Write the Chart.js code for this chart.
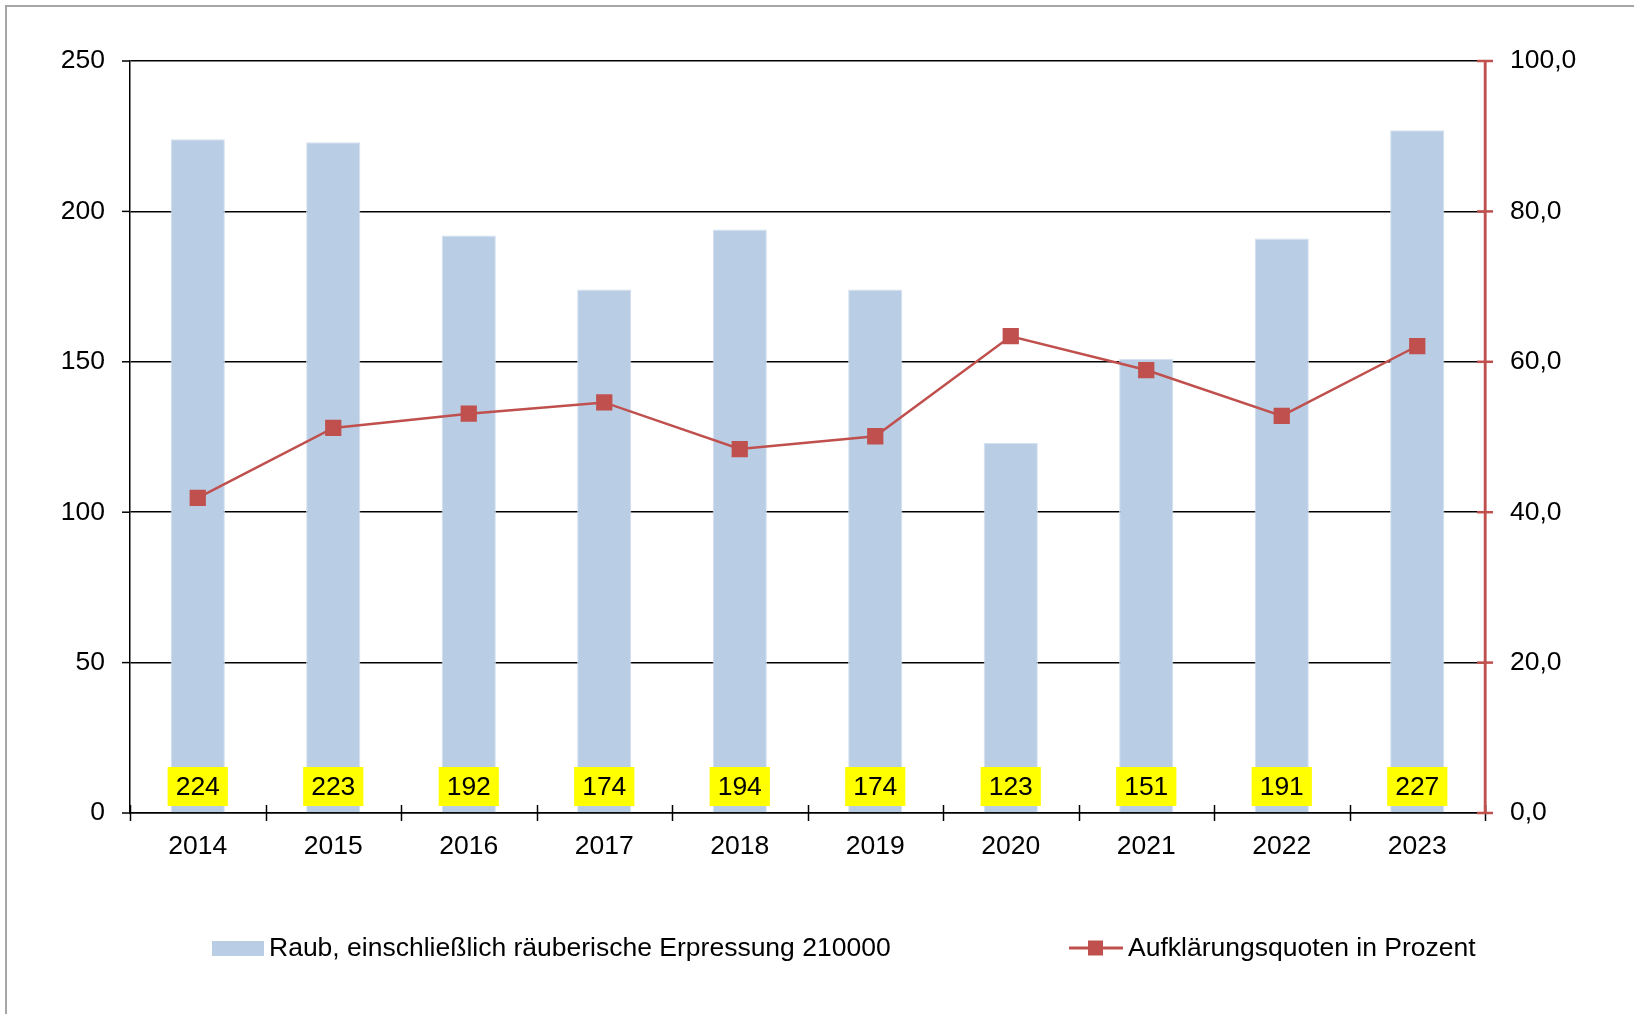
<!DOCTYPE html>
<html>
<head>
<meta charset="utf-8">
<script src="https://cdn.jsdelivr.net/npm/chart.js@4/dist/chart.umd.min.js"></script>
<style>
  html, body { margin: 0; padding: 0; background: #fff; }
  #wrap { width: 1634px; height: 1014px; position: relative; }
</style>
</head>
<body>
<div id="wrap"><canvas id="chart" width="1634" height="1014"></canvas></div>
<script>
// daten
const jahre = ["2014", "2015", "2016", "2017", "2018", "2019", "2020", "2021", "2022", "2023"];
const faelle = [224, 223, 192, 174, 194, 174, 123, 151, 191, 227];
const quoten = [41.9, 51.2, 53.1, 54.6, 48.4, 50.1, 63.4, 58.9, 52.8, 62.1];
const linksTicks = [0, 50, 100, 150, 200, 250];
const rechtsTicks = [0, 20, 40, 60, 80, 100];

const blau = "#B9CDE5";
const rot = "#C0504D";
const schrift = "'Liberation Sans', Arial, sans-serif";
const gr = 26.5; // schriftgröße

Chart.defaults.font.family = schrift;
Chart.defaults.font.size = gr;
Chart.defaults.color = "#000";

// rahmen um das ganze diagramm
const rahmen = {
  id: "rahmen",
  beforeDraw(chart) {
    const c = chart.ctx;
    c.save();
    c.fillStyle = "#fff";
    c.fillRect(0, 0, chart.width, chart.height);
    c.strokeStyle = "#A6A6A6";
    c.lineWidth = 2;
    c.strokeRect(6, 6, chart.width + 20, chart.height + 20);
    c.restore();
  }
};

// striche an den achsen (gehen über die achse hinweg)
const striche = {
  id: "striche",
  afterDatasetsDraw(chart) {
    const c = chart.ctx;
    const x = chart.scales.x;
    const y1 = chart.scales.y1;
    const y = chart.scales.y;
    c.save();
    c.lineWidth = 1.5;
    c.strokeStyle = "#000";
    const n = jahre.length;
    for (let i = 0; i <= n; i++) {
      const px = Math.round(x.left + i * x.width / n) + 0.5;
      c.beginPath();
      c.moveTo(px, x.top - 8);
      c.lineTo(px, x.top + 8);
      c.stroke();
    }
    linksTicks.forEach((v) => {
      const py = y.getPixelForValue(v);
      c.beginPath();
      c.moveTo(y.right - 8, py);
      c.lineTo(y.right, py);
      c.stroke();
    });
    c.strokeStyle = rot;
    c.lineWidth = 2.5;
    rechtsTicks.forEach((v) => {
      const py = y1.getPixelForValue(v);
      c.beginPath();
      c.moveTo(y1.left - 8, py);
      c.lineTo(y1.left + 8, py);
      c.stroke();
    });
    c.beginPath();
    c.moveTo(y1.left, y1.top);
    c.lineTo(y1.left, y1.bottom);
    c.stroke();
    c.restore();
  }
};

// gelbe wertekästchen unten an den balken
const werte = {
  id: "werte",
  afterDatasetsDraw(chart) {
    const c = chart.ctx;
    const meta = chart.getDatasetMeta(1);
    const basis = chart.scales.y.getPixelForValue(0);
    c.save();
    c.font = gr + "px " + schrift;
    c.textAlign = "center";
    c.textBaseline = "middle";
    meta.data.forEach((bar, i) => {
      const txt = String(faelle[i]);
      const w = c.measureText(txt).width + 16;
      const h = 39;
      c.fillStyle = "#FFFF00";
      c.fillRect(bar.x - w / 2, basis - 7 - h, w, h);
      c.fillStyle = "#000";
      c.fillText(txt, bar.x, basis - 7 - h / 2 + 1);
    });
    c.restore();
  }
};

// legende selbst zeichnen
const legende = {
  id: "legende",
  afterDraw(chart) {
    const c = chart.ctx;
    const ly = 948;
    c.save();
    c.font = gr + "px " + schrift;
    c.textBaseline = "middle";
    c.fillStyle = blau;
    c.fillRect(212, ly - 7, 52, 15);
    c.fillStyle = "#000";
    c.fillText(chart.data.datasets[1].label, 269, ly + 1);

    c.strokeStyle = rot;
    c.lineWidth = 3;
    c.beginPath();
    c.moveTo(1069, ly);
    c.lineTo(1123, ly);
    c.stroke();
    c.fillStyle = rot;
    c.fillRect(1088, ly - 7.5, 15, 15);
    c.fillStyle = "#000";
    c.fillText(chart.data.datasets[0].label, 1128, ly + 1);
    c.restore();
  }
};

const ctx = document.getElementById("chart").getContext("2d");

new Chart(ctx, {
  data: {
    labels: jahre,
    datasets: [
      {
        type: "line",
        label: "Aufklärungsquoten in Prozent",
        data: quoten,
        yAxisID: "y1",
        borderColor: rot,
        backgroundColor: rot,
        borderWidth: 2.5,
        pointStyle: "rect",
        pointRadius: 11.5,
        pointHoverRadius: 11.5,
        pointBorderWidth: 0,
        tension: 0,
        order: 0
      },
      {
        type: "bar",
        label: "Raub, einschließlich räuberische Erpressung 210000",
        data: faelle,
        yAxisID: "y",
        backgroundColor: blau,
        borderColor: "#D6E1EF",
        borderWidth: 1,
        categoryPercentage: 0.4,
        barPercentage: 1,
        order: 1
      }
    ]
  },
  plugins: [rahmen, werte, striche, legende],
  options: {
    responsive: false,
    animation: false,
    layout: { padding: { top: 61, left: 0, right: 0, bottom: 0 } },
    plugins: {
      legend: { display: false },
      tooltip: { enabled: false }
    },
    scales: {
      x: {
        grid: { display: false, drawTicks: false },
        border: { color: "#000", width: 1.5 },
        ticks: { padding: 18, color: "#000", font: { size: gr } },
        afterFit: (s) => { s.height = 201; }
      },
      y: {
        position: "left",
        min: 0,
        max: 250,
        afterBuildTicks: (s) => { s.ticks = linksTicks.map((v) => ({ value: v })); },
        grid: { color: "#000", lineWidth: 1.5, drawTicks: false },
        border: { color: "#000", width: 1.5 },
        ticks: { padding: 25, color: "#000", font: { size: gr } },
        afterFit: (s) => { s.width = 130; }
      },
      y1: {
        position: "right",
        min: 0,
        max: 100,
        afterBuildTicks: (s) => { s.ticks = rechtsTicks.map((v) => ({ value: v })); },
        grid: { drawOnChartArea: false, drawTicks: false },
        border: { color: rot, width: 2.5 },
        ticks: {
          padding: 25,
          color: "#000",
          font: { size: gr },
          callback: (v) => v.toFixed(1).replace(".", ",")
        },
        afterFit: (s) => { s.width = 149; }
      }
    }
  }
});
</script>
</body>
</html>
